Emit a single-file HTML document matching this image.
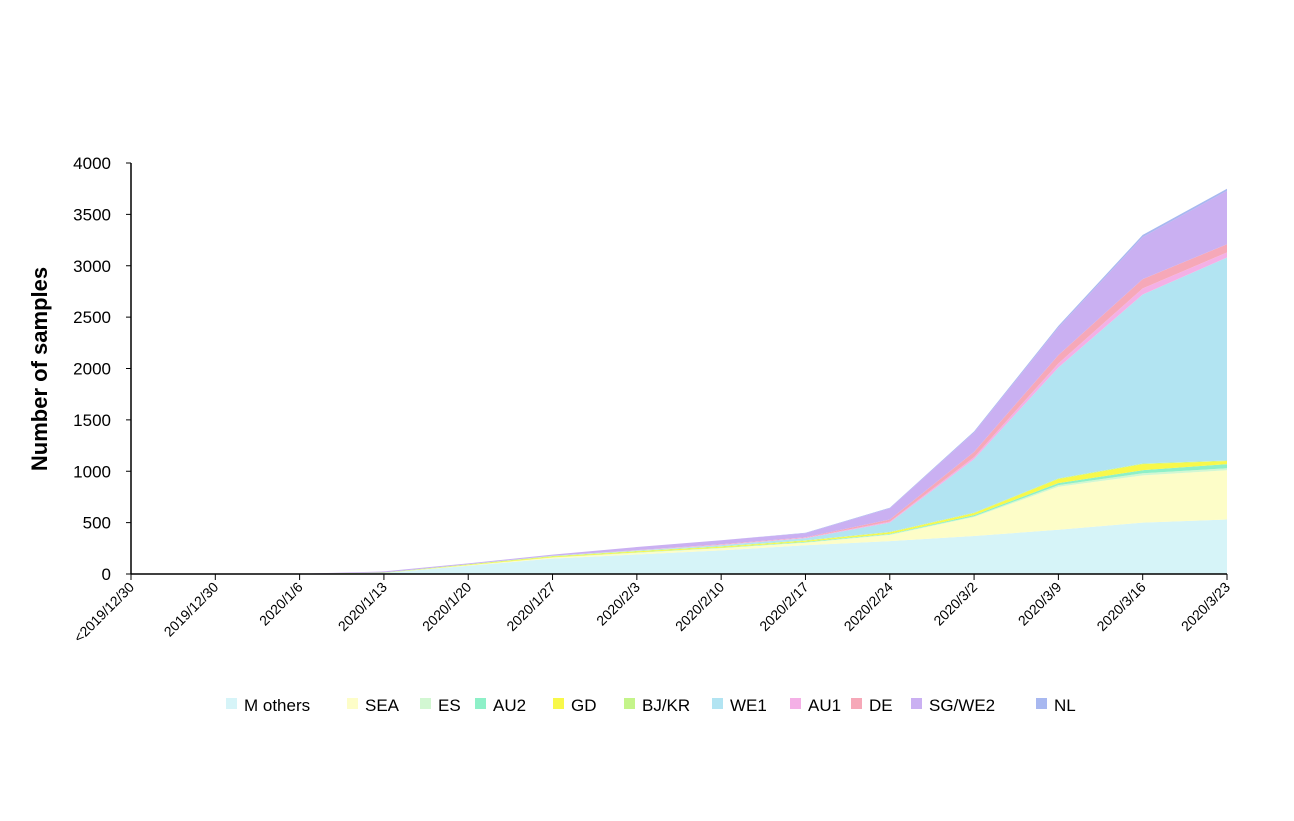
<!DOCTYPE html>
<html><head><meta charset="utf-8"><style>
html,body{margin:0;padding:0;background:#fff;}
svg{display:block;font-family:"Liberation Sans",sans-serif;}
</style></head><body>
<svg id="s" width="1294" height="821" xmlns="http://www.w3.org/2000/svg"></svg>
<script>
const s=document.getElementById('s');
const X0=131,X1=1227,Y0=574,K=(574-163)/4000;
const xs=i=>X0+i*(X1-X0)/13, ys=v=>Y0-v*K;
const layers=[
["M others","#d6f4f8",[0,0,0,10,80,150,190,230,280,320,370,430,500,530]],
["SEA","#fdfdc8",[0,0,0,0,5,10,15,20,25,60,185,420,460,480]],
["ES","#d2f7d2",[0,0,0,0,0,2,3,3,3,5,8,15,20,20]],
["AU2","#8ef0c8",[0,0,0,0,0,0,2,3,5,5,10,20,30,40]],
["GD","#f8f84a",[0,0,0,0,5,8,10,10,10,15,20,40,60,30]],
["BJ/KR","#c4f48a",[0,0,2,5,5,5,5,5,5,5,5,5,5,5]],
["WE1","#b2e4f2",[0,0,0,0,0,2,5,10,20,90,520,1080,1645,1975]],
["AU1","#f4b0e6",[0,0,0,0,0,0,0,3,5,10,20,40,60,50]],
["DE","#f6a8b8",[0,0,0,0,0,0,3,5,5,20,50,80,90,80]],
["SG/WE2","#cab0f2",[0,0,1,10,8,12,30,40,40,110,190,270,410,520]],
["NL","#a8b8f0",[0,0,0,0,0,0,0,0,3,5,10,15,20,20]]];
let h='';
let base=new Array(14).fill(0);
for(const [n,c,d] of layers){
 const top=base.map((b,i)=>b+d[i]);
 let p='M'+top.map((v,i)=>xs(i).toFixed(1)+','+ys(v).toFixed(1)).join(' L');
 for(let i=13;i>=0;i--)p+=' L'+xs(i).toFixed(1)+','+ys(base[i]).toFixed(1);
 h+=`<path d="${p} Z" fill="${c}"/>`;
 base=top;
}
// axes
h+=`<line x1="${X0}" y1="163" x2="${X0}" y2="${Y0}" stroke="#000" stroke-width="1.5"/>`;
h+=`<line x1="${X0}" y1="${Y0}" x2="${X1}" y2="${Y0}" stroke="#000" stroke-width="1.5"/>`;
for(let v=0;v<=4000;v+=500){const y=ys(v);
 h+=`<line x1="${X0-5}" y1="${y}" x2="${X0}" y2="${y}" stroke="#000"/>`;
 h+=`<text x="111" y="${y+6}" font-size="17" text-anchor="end">${v}</text>`;}
const lab=["<2019/12/30","2019/12/30","2020/1/6","2020/1/13","2020/1/20","2020/1/27","2020/2/3","2020/2/10","2020/2/17","2020/2/24","2020/3/2","2020/3/9","2020/3/16","2020/3/23"];
lab.forEach((t,i)=>{const x=xs(i);
 h+=`<line x1="${x}" y1="${Y0}" x2="${x}" y2="${Y0+6}" stroke="#000"/>`;
 h+=`<text transform="translate(${x+4},${Y0+14}) rotate(-45)" font-size="14" text-anchor="end">${t.replace('<','&lt;')}</text>`;});
h+=`<text transform="translate(47,369) rotate(-90)" font-size="22" font-weight="bold" text-anchor="middle">Number of samples</text>`;
// legend
const lx=[226,347,420,475,553,624,712,790,851,911,1036];
layers.forEach(([n,c],i)=>{
 h+=`<rect x="${lx[i]}" y="698" width="11" height="11" fill="${c}"/>`;
 h+=`<text x="${lx[i]+18}" y="711" font-size="17">${n}</text>`;});
s.innerHTML=h;
</script>
</body></html>
